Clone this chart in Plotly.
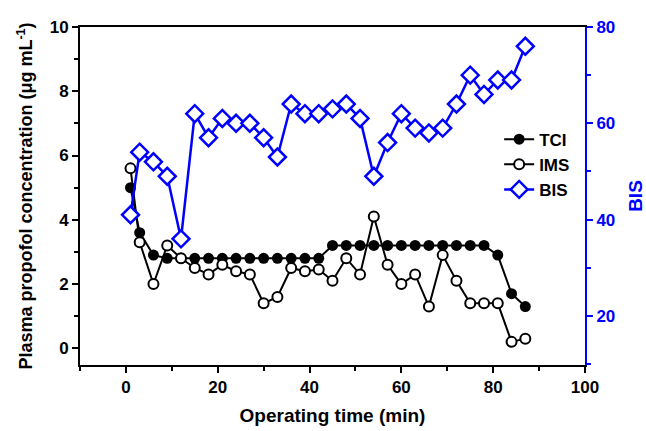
import plotly.graph_objects as go

time = [1, 3, 6, 9, 12, 15, 18, 21, 24, 27, 30, 33, 36, 39, 42, 45, 48, 51, 54, 57,
        60, 63, 66, 69, 72, 75, 78, 81, 84, 87]
tci = [5.0, 3.6, 2.9, 2.8, 2.8, 2.8, 2.8, 2.8, 2.8, 2.8, 2.8, 2.8, 2.8, 2.8, 2.8,
       3.2, 3.2, 3.2, 3.2, 3.2, 3.2, 3.2, 3.2, 3.2, 3.2, 3.2, 3.2, 2.9, 1.7, 1.3]
ims = [5.6, 3.3, 2.0, 3.2, 2.8, 2.5, 2.3, 2.6, 2.4, 2.3, 1.4, 1.6, 2.5, 2.4, 2.45,
       2.1, 2.8, 2.3, 4.1, 2.6, 2.0, 2.3, 1.3, 2.9, 2.1, 1.4, 1.4, 1.4, 0.2, 0.3]
bis = [41, 54, 52, 49, 36, 62, 57, 61, 60, 60, 57, 53, 64, 62, 62, 63, 64, 61, 49, 56,
       62, 59, 58, 59, 64, 70, 66, 69, 69, 76]

FONT = "Liberation Sans, Arial, sans-serif"
BLUE = "#0000ff"

fig = go.Figure()
fig.add_trace(go.Scatter(
    x=time, y=tci, name="TCI", mode="lines+markers",
    line=dict(color="black", width=2),
    marker=dict(symbol="circle", size=11, color="black"),
))
fig.add_trace(go.Scatter(
    x=time, y=ims, name="IMS", mode="lines+markers",
    line=dict(color="black", width=2),
    marker=dict(symbol="circle", size=10, color="white",
                line=dict(color="black", width=2)),
))
fig.add_trace(go.Scatter(
    x=time, y=bis, name="BIS", mode="lines+markers", yaxis="y2",
    line=dict(color=BLUE, width=2.5),
    marker=dict(symbol="diamond", size=13, color="white",
                line=dict(color=BLUE, width=2.5)),
))

fig.update_layout(
    width=646, height=431,
    margin=dict(l=80, r=61, t=27, b=66),
    plot_bgcolor="white", paper_bgcolor="white",
    font=dict(family=FONT, size=17, color="black", weight="bold"),
    showlegend=True,
    legend=dict(x=0.83, y=0.72, xanchor="left", yanchor="top",
                bgcolor="rgba(0,0,0,0)", font=dict(size=17, weight="bold"),
                tracegroupgap=0, itemwidth=30),
    xaxis=dict(
        range=[-10, 100], tickvals=[0, 20, 40, 60, 80, 100],
        showgrid=False, zeroline=False, automargin=False,
        showline=True, linecolor="black", linewidth=2, mirror=True,
        ticks="outside", ticklen=6, tickwidth=2, tickcolor="black",
        minor=dict(dtick=10, tick0=-10, ticks="outside", ticklen=4, tickwidth=2, tickcolor="black"),
        title=dict(text="Operating time (min)", font=dict(size=19, weight="bold"), standoff=12),
        tickfont=dict(size=17, weight="bold"),
    ),
    yaxis=dict(
        range=[-0.52, 10], tickvals=[0, 2, 4, 6, 8, 10],
        showgrid=False, zeroline=False, automargin=False,
        showline=True, linecolor="black", linewidth=2,
        ticks="outside", ticklen=6, tickwidth=2, tickcolor="black",
        minor=dict(dtick=1, tick0=0, ticks="outside", ticklen=4, tickwidth=2, tickcolor="black"),
        title=dict(text="Plasma propofol concentration (μg mL<sup>-1</sup>)",
                   font=dict(size=18, weight="bold"), standoff=12),
        tickfont=dict(size=17, weight="bold"),
    ),
    yaxis2=dict(
        overlaying="y", side="right", automargin=False,
        range=[9.8, 80], tickvals=[20, 40, 60, 80],
        showgrid=False, zeroline=False,
        showline=True, linecolor=BLUE, linewidth=2,
        ticks="outside", ticklen=6, tickwidth=2, tickcolor=BLUE,
        minor=dict(dtick=10, tick0=0, ticks="outside", ticklen=4, tickwidth=2, tickcolor=BLUE),
        title=dict(text="BIS", font=dict(size=19, color=BLUE, weight="bold"), standoff=16),
        tickfont=dict(size=17, color=BLUE, weight="bold"),
    ),
)

fig.write_html("out.html")
